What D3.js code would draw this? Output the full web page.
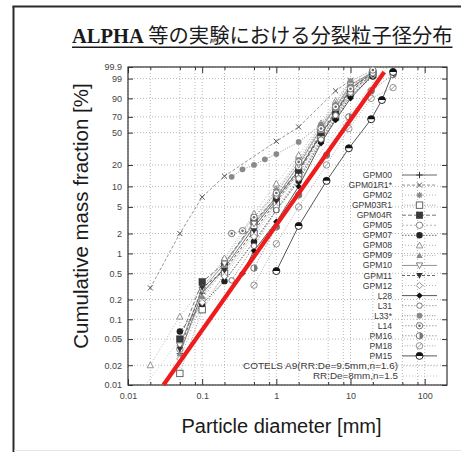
<!DOCTYPE html>
<html>
<head>
<meta charset="utf-8">
<script src="https://cdn.jsdelivr.net/npm/d3@7"></script>
<style>
  html, body { margin: 0; padding: 0; background: #fff; }
  svg { display: block; }
</style>
</head>
<body>
<svg id="chart" width="461" height="452"></svg>
<script>
// ---------------- data ----------------
// axis ticks
const yTickPct  = [0.01, 0.02, 0.05, 0.1, 0.2, 0.5, 1, 2, 5, 10, 20, 50, 70, 90, 99, 99.9];
const yTickText = ['0.01','0.02','0.05','0.1','0.2','0.5','1','2','5','10','20','50','70','90','99','99.9'];
const xMajor     = [0.01, 0.1, 1, 10, 100];
const xMajorText = ['0.01', '0.1', '1', '10', '100'];
const xMinor     = [0.02, 0.05, 0.08, 0.2, 0.5, 0.8, 2, 5, 8, 20, 50, 80];

// sieve sizes [mm]
const gpmSizes   = [0.05, 0.1, 0.2, 0.5, 1, 2, 4, 6.3, 10, 20];
const gpm01Sizes = [0.02, 0.05, 0.1, 0.2, 1, 2, 6.3, 10];
const gpm08Sizes = [0.02, 0.05, 0.1, 0.2, 0.5, 1, 2, 4, 6.3, 10];
const l28Sizes   = [0.35, 0.5, 1, 2, 4, 6.3, 10, 20];
const l31Sizes   = [0.25, 0.5, 1, 2, 4, 6.3, 10, 20];
const l33Sizes   = [0.25, 0.35, 0.5, 0.7, 1, 2, 4, 6.3, 10];
const l14Sizes   = [0.25, 0.35, 0.5, 1, 2, 4, 6.3, 10, 20];
const pmSizes    = [0.5, 1, 2, 4.75, 9.5, 19, 37.5];
const pm15Sizes  = [1, 2, 4.75, 9.5, 19, 26.5, 37.5];

// cumulative mass fraction [%]
const gpm00   = [0.03, 0.25, 0.6, 2.5, 6.5, 17, 48, 75, 96, 99.7];
const gpm01r1 = [0.3, 2, 7, 14, 40, 57, 95, 98.7];
const gpm02   = [0.04, 0.3, 0.8, 3.5, 9, 24, 58, 84, 98.5, 99.8];
const gpm03r1 = [0.015, 0.14, 0.5, 2, 5.5, 15, 44, 70, 94, 99.5];
const gpm04r  = [0.05, 0.37, 0.71, 3, 7, 17, 50, 77, 96, 99.6];
const gpm05   = [0.035, 0.2, 0.6, 2.5, 7.5, 19, 52, 80, 97, 99.7];
const gpm07   = [0.065, 0.17, 0.38, 1.5, 4.5, 12, 40, 68, 92, 99.3];
const gpm08   = [0.02, 0.11, 0.3, 0.85, 4, 11, 27, 62, 88, 98.5];
const gpm09   = [0.03, 0.22, 0.65, 3, 8.5, 22, 60, 86, 98.5, 99.8];
const gpm10   = [0.04, 0.28, 0.7, 2.8, 7, 20, 55, 82, 97.5, 99.7];
const gpm11   = [0.035, 0.3, 0.55, 2.2, 6, 16, 47, 74, 95, 99.5];
const gpm12   = [0.025, 0.18, 0.45, 1.8, 5, 13, 42, 70, 93, 99.4];
const l28     = [0.5, 1.1, 3, 10, 38, 66, 90, 99.5];
const l31     = [0.39, 1.3, 4.5, 13, 42, 72, 94, 99.6];
const l33     = [13.7, 17.4, 20, 23.8, 27.9, 39.3, 60, 80, 97];
const l14     = [2, 2.2, 3.5, 8, 22, 55, 82, 96, 99.8];
const pm16    = [0.6, 2.5, 7.5, 27, 70, 95, 99.5];
const pm18    = [0.33, 1.4, 5, 20, 55, 90, 96.5];
const pm15    = [0.54, 2.6, 12, 33, 67, 88.6, 99.7];

// Rosin-Rammler fits [De mm, n]
const rrCotels = [9.5, 1.6];
const rrRef    = [8, 1.5];

// series table: name, sizes, values, line and marker style
const series = [
  { name: 'GPM00',    d: gpmSizes,   f: gpm00,   mk: 'plus',     line: '#555', dash: null },
  { name: 'GPM01R1*', d: gpm01Sizes, f: gpm01r1, mk: 'cross',    line: '#888', dash: '3,2' },
  { name: 'GPM02',    d: gpmSizes,   f: gpm02,   mk: 'star',     line: '#aaa', dash: '1,2' },
  { name: 'GPM03R1',  d: gpmSizes,   f: gpm03r1, mk: 'square',   line: '#999', dash: '1,1.5' },
  { name: 'GPM04R',   d: gpmSizes,   f: gpm04r,  mk: 'squareF',  line: '#666', dash: '4,2' },
  { name: 'GPM05',    d: gpmSizes,   f: gpm05,   mk: 'circle',   line: '#aaa', dash: '2,2' },
  { name: 'GPM07',    d: gpmSizes,   f: gpm07,   mk: 'circleF',  line: '#555', dash: '1.5,1.5' },
  { name: 'GPM08',    d: gpm08Sizes, f: gpm08,   mk: 'tri',      line: '#aaa', dash: '1,2' },
  { name: 'GPM09',    d: gpmSizes,   f: gpm09,   mk: 'triF',     line: '#aaa', dash: '1,1.5' },
  { name: 'GPM10',    d: gpmSizes,   f: gpm10,   mk: 'itri',     line: '#888', dash: null },
  { name: 'GPM11',    d: gpmSizes,   f: gpm11,   mk: 'itriF',    line: '#555', dash: '3,2' },
  { name: 'GPM12',    d: gpmSizes,   f: gpm12,   mk: 'diamond',  line: '#aaa', dash: '1,2' },
  { name: 'L28',      d: l28Sizes,   f: l28,     mk: 'diamondF', line: '#444', dash: null },
  { name: 'L31',      d: l31Sizes,   f: l31,     mk: 'circleS',  line: '#999', dash: '1.5,1.5' },
  { name: 'L33*',     d: l33Sizes,   f: l33,     mk: 'circleG',  line: '#888', dash: '1,1.5' },
  { name: 'L14',      d: l14Sizes,   f: l14,     mk: 'dotCircle',line: '#999', dash: '1.5,1.5' },
  { name: 'PM16',     d: pmSizes,    f: pm16,    mk: 'halfR',    line: '#999', dash: '1.5,1.5' },
  { name: 'PM18',     d: pmSizes,    f: pm18,    mk: 'slashC',   line: '#aaa', dash: '1,1.5' },
  { name: 'PM15',     d: pm15Sizes,  f: pm15,    mk: 'halfTop',  line: '#444', dash: null }
];

// ---------------- scales ----------------
const svg = d3.select('#chart');
const L = 128, R = 447, T = 67, B = 385;

// Rosin-Rammler ordinate: ln(-ln(1 - F))
const rr = p => Math.log(-Math.log(1 - p / 100));
const x = d3.scaleLog().domain([0.01, 200]).range([L, R]);
const yR = d3.scaleLinear().domain([rr(0.01), rr(99.9)]).range([B, T]);
const y = p => yR(rr(p));

// ---------------- frame & title ----------------
svg.append('rect').attr('x', 0).attr('y', 0).attr('width', 461).attr('height', 452).attr('fill', '#fff');
svg.append('line').attr('x1', 13.5).attr('x2', 13.5).attr('y1', 6).attr('y2', 452)
  .attr('stroke', '#2b2b2b').attr('stroke-width', 2);
svg.append('line').attr('x1', 12.5).attr('x2', 461).attr('y1', 6.5).attr('y2', 6.5)
  .attr('stroke', '#2b2b2b').attr('stroke-width', 2);
svg.append('line').attr('x1', 14).attr('x2', 461).attr('y1', 450.5).attr('y2', 450.5)
  .attr('stroke', '#e4e4e4').attr('stroke-width', 1);

const title = svg.append('text').attr('x', 72).attr('y', 43).attr('fill', '#1a1a1a');
title.append('tspan').text('ALPHA')
  .attr('font-family', '"Liberation Serif", "DejaVu Serif", serif')
  .attr('font-weight', 'bold').attr('font-size', 20.5);
title.append('tspan').text(' 等の実験における分裂粒子径分布')
  .attr('font-family', '"Noto Sans CJK JP", sans-serif')
  .attr('font-size', 20.3).attr('font-weight', 400);
const tb = title.node().getBBox();
svg.append('line').attr('x1', tb.x).attr('x2', tb.x + tb.width)
  .attr('y1', 47.2).attr('y2', 47.2).attr('stroke', '#1a1a1a').attr('stroke-width', 1.4);

// ---------------- grid ----------------
const grid = svg.append('g').attr('stroke', '#a8a8a8').attr('stroke-width', 0.8)
  .attr('stroke-dasharray', '1,2');
yTickPct.forEach(p => {
  grid.append('line').attr('x1', L).attr('x2', R).attr('y1', y(p)).attr('y2', y(p));
});
xMajor.concat(xMinor).forEach(v => {
  grid.append('line').attr('x1', x(v)).attr('x2', x(v)).attr('y1', T).attr('y2', B);
});

// ---------------- axes ----------------
const axisFont = '"Liberation Sans", Arial, sans-serif';
const yAxis = d3.axisLeft(yR).tickValues(yTickPct.map(p => rr(p)))
  .tickFormat((d, i) => yTickText[i]).tickSize(-5).tickPadding(6);
const gy = svg.append('g').attr('transform', `translate(${L},0)`).call(yAxis);
const yAxisR = d3.axisRight(yR).tickValues(yTickPct.map(p => rr(p)))
  .tickFormat('').tickSize(-5);
const gyr = svg.append('g').attr('transform', `translate(${R},0)`).call(yAxisR);

const xAxis = d3.axisBottom(x).tickValues(xMajor)
  .tickFormat((d, i) => xMajorText[i]).tickSize(-6).tickPadding(6);
const gx = svg.append('g').attr('transform', `translate(0,${B})`).call(xAxis);
const xAxisMinor = d3.axisBottom(x).tickValues(xMinor).tickFormat('').tickSize(-3);
const gxm = svg.append('g').attr('transform', `translate(0,${B})`).call(xAxisMinor);
const xAxisTop = d3.axisTop(x).tickValues(xMajor).tickFormat('').tickSize(-6);
const gxt = svg.append('g').attr('transform', `translate(0,${T})`).call(xAxisTop);
const xAxisTopMinor = d3.axisTop(x).tickValues(xMinor).tickFormat('').tickSize(-3);
const gxtm = svg.append('g').attr('transform', `translate(0,${T})`).call(xAxisTopMinor);

[gy, gyr, gx, gxm, gxt, gxtm].forEach(g => {
  g.select('.domain').remove();
  g.selectAll('.tick line').attr('stroke', '#333').attr('stroke-width', 1);
  g.selectAll('text').attr('font-family', axisFont).attr('font-size', 9).attr('fill', '#444');
});
gx.selectAll('text').attr('dy', '0.9em');

// plot border
svg.append('rect').attr('x', L).attr('y', T).attr('width', R - L).attr('height', B - T)
  .attr('fill', 'none').attr('stroke', '#333').attr('stroke-width', 1.2);

// axis titles
svg.append('text').text('Cumulative mass fraction [%]')
  .attr('transform', 'translate(88,216) rotate(-90)')
  .attr('text-anchor', 'middle').attr('font-family', axisFont)
  .attr('font-size', 20.5).attr('fill', '#1a1a1a');
svg.append('text').text('Particle diameter [mm]')
  .attr('x', 281.5).attr('y', 433).attr('text-anchor', 'middle')
  .attr('font-family', axisFont).attr('font-size', 20).attr('fill', '#1a1a1a');

// ---------------- markers ----------------
function marker(g, type, cx, cy) {
  const m = g.append('g').attr('transform', `translate(${cx},${cy})`);
  const s = 3.2;
  switch (type) {
    case 'plus':
      m.append('path').attr('d', `M${-s},0H${s}M0,${-s}V${s}`).attr('stroke', '#333').attr('stroke-width', 1);
      break;
    case 'cross':
      m.append('path').attr('d', `M${-s*0.8},${-s*0.8}L${s*0.8},${s*0.8}M${-s*0.8},${s*0.8}L${s*0.8},${-s*0.8}`)
        .attr('stroke', '#555').attr('stroke-width', 1);
      break;
    case 'star':
      m.append('path').attr('d', `M${-s},0H${s}M0,${-s}V${s}M${-s*0.7},${-s*0.7}L${s*0.7},${s*0.7}M${-s*0.7},${s*0.7}L${s*0.7},${-s*0.7}`)
        .attr('stroke', '#888').attr('stroke-width', 1.2);
      break;
    case 'square':
      m.append('rect').attr('x', -s).attr('y', -s).attr('width', 2*s).attr('height', 2*s)
        .attr('fill', '#fff').attr('stroke', '#555').attr('stroke-width', 0.9);
      break;
    case 'squareF':
      m.append('rect').attr('x', -s).attr('y', -s).attr('width', 2*s).attr('height', 2*s)
        .attr('fill', '#3a3a3a').attr('stroke', '#333').attr('stroke-width', 0.6);
      break;
    case 'circle':
      m.append('circle').attr('r', s).attr('fill', '#fff').attr('stroke', '#777').attr('stroke-width', 0.9);
      break;
    case 'circleS':
      m.append('circle').attr('r', s * 0.85).attr('fill', '#fff').attr('stroke', '#666').attr('stroke-width', 0.9);
      break;
    case 'circleF':
      m.append('circle').attr('r', s).attr('fill', '#222');
      break;
    case 'circleG':
      m.append('circle').attr('r', s * 0.9).attr('fill', '#8a8a8a');
      break;
    case 'tri':
      m.append('path').attr('d', `M0,${-s}L${s},${s*0.8}L${-s},${s*0.8}Z`)
        .attr('fill', '#fff').attr('stroke', '#888').attr('stroke-width', 0.9);
      break;
    case 'triF':
      m.append('path').attr('d', `M0,${-s}L${s},${s*0.8}L${-s},${s*0.8}Z`).attr('fill', '#8a8a8a');
      break;
    case 'itri':
      m.append('path').attr('d', `M0,${s}L${s},${-s*0.8}L${-s},${-s*0.8}Z`)
        .attr('fill', '#fff').attr('stroke', '#777').attr('stroke-width', 0.9);
      break;
    case 'itriF':
      m.append('path').attr('d', `M0,${s}L${s},${-s*0.8}L${-s},${-s*0.8}Z`).attr('fill', '#333');
      break;
    case 'diamond':
      m.append('path').attr('d', `M0,${-s}L${s},0L0,${s}L${-s},0Z`)
        .attr('fill', '#fff').attr('stroke', '#888').attr('stroke-width', 0.9);
      break;
    case 'diamondF':
      m.append('path').attr('d', `M0,${-s}L${s},0L0,${s}L${-s},0Z`).attr('fill', '#111');
      break;
    case 'dotCircle':
      m.append('circle').attr('r', s).attr('fill', '#fff').attr('stroke', '#666').attr('stroke-width', 0.9);
      m.append('circle').attr('r', s * 0.4).attr('fill', '#666');
      break;
    case 'halfR':
      m.append('circle').attr('r', s).attr('fill', '#fff').attr('stroke', '#666').attr('stroke-width', 0.9);
      m.append('path').attr('d', `M0,${-s}A${s},${s} 0 0 1 0,${s}Z`).attr('fill', '#777');
      break;
    case 'slashC':
      m.append('circle').attr('r', s).attr('fill', '#fff').attr('stroke', '#888').attr('stroke-width', 0.9);
      m.append('path').attr('d', `M${-s*0.7},${s*0.7}L${s*0.7},${-s*0.7}`).attr('stroke', '#888').attr('stroke-width', 0.9);
      break;
    case 'halfTop':
      m.append('circle').attr('r', s * 1.1).attr('fill', '#fff').attr('stroke', '#111').attr('stroke-width', 0.9);
      m.append('path').attr('d', `M${-s*1.1},0A${s*1.1},${s*1.1} 0 0 1 ${s*1.1},0Z`).attr('fill', '#111');
      break;
  }
}

// ---------------- plot ----------------
const clip = svg.append('clipPath').attr('id', 'plotClip');
clip.append('rect').attr('x', L).attr('y', T).attr('width', R - L).attr('height', B - T);
const plot = svg.append('g').attr('clip-path', 'url(#plotClip)');

// Rosin-Rammler curves as faint dotted reference lines
function rrCurve([De, n], top) {
  const lo = De * Math.exp(rr(0.01) / n);
  const hi = De * Math.exp(rr(top) / n);
  return [lo, hi].map(d => [x(d), yR(n * Math.log(d / De))]);
}
const lineGen = d3.line();
[rrCotels, rrRef].forEach(p => {
  plot.append('path').attr('d', lineGen(rrCurve(p, 99.9)))
    .attr('fill', 'none').attr('stroke', '#bdbdbd').attr('stroke-width', 0.9)
    .attr('stroke-dasharray', '1,2');
});

const seriesLine = d3.line().x(d => x(d[0])).y(d => y(d[1]));
series.forEach(s => {
  const pts = s.d.map((d, i) => [d, s.f[i]]);
  plot.append('path').attr('d', seriesLine(pts))
    .attr('fill', 'none').attr('stroke', s.line).attr('stroke-width', 0.9)
    .attr('stroke-dasharray', s.dash);
});
series.forEach(s => {
  s.d.forEach((d, i) => marker(plot, s.mk, x(d), y(s.f[i])));
});

// COTELS A9 fit, highlighted in red
svg.append('path').attr('d', lineGen(rrCurve(rrCotels, 99.7))).attr('fill', 'none')
  .attr('stroke', '#ee1c1c').attr('stroke-width', 4.2).attr('stroke-linecap', 'butt');

// ---------------- legend ----------------
const legend = svg.append('g');
const ly0 = 175, lstep = 10.05;
series.forEach((s, i) => {
  const ly = ly0 + i * lstep;
  legend.append('text').text(s.name)
    .attr('x', 392).attr('y', ly)
    .attr('text-anchor', 'end').attr('dy', '0.35em')
    .attr('font-family', axisFont).attr('font-size', 8.6).attr('fill', '#3a3a3a');
  legend.append('line').attr('x1', 402).attr('x2', 437).attr('y1', ly).attr('y2', ly)
    .attr('stroke', s.line).attr('stroke-width', 0.9).attr('stroke-dasharray', s.dash);
  marker(legend, s.mk, 419.5, ly);
});
const fitLabels = [
  `COTELS A9(RR:De=${rrCotels[0]}mm,n=${rrCotels[1]})`,
  `RR:De=${rrRef[0]}mm,n=${rrRef[1]}`
];
const fitWidths = [155, 85];
fitLabels.forEach((t, j) => {
  const ly = ly0 + (series.length + j) * lstep;
  legend.append('text').text(t).attr('x', 398).attr('y', ly).attr('dy', '0.35em')
    .attr('text-anchor', 'end').attr('font-family', axisFont).attr('font-size', 8.6)
    .attr('textLength', fitWidths[j]).attr('lengthAdjust', 'spacingAndGlyphs')
    .attr('fill', '#3a3a3a');
  legend.append('line').attr('x1', 403).attr('x2', 437).attr('y1', ly).attr('y2', ly)
    .attr('stroke', '#bdbdbd').attr('stroke-width', 0.9).attr('stroke-dasharray', '1,2');
});
</script>
</body>
</html>
